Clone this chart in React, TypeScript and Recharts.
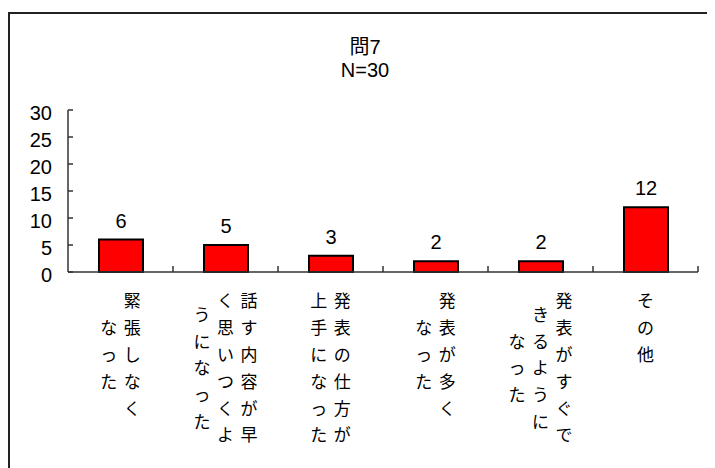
import { BarChart, Bar, XAxis, YAxis, LabelList } from "recharts";

// 問7 の回答（N=30）
const labelColumns: string[][] = [
  ["緊張しなく", "なった"],
  ["話す内容が早", "く思いつくよ", "うになった"],
  ["発表の仕方が", "上手になった"],
  ["発表が多く", "なった"],
  ["発表がすぐで", "きるように", "なった"],
  ["その他"],
];
const counts = [6, 5, 3, 2, 2, 12];
const yTicks = [0, 5, 10, 15, 20, 25, 30];

const data = labelColumns.map((cols, i) => ({ name: cols.join(""), count: counts[i] }));

const W = 697;
const H = 454;
const M = { top: 96, right: 9, left: 0, bottom: 0 };
const Y_W = 58;
const BAND = (W - M.left - M.right - Y_W) / labelColumns.length;

const numFont = "'Liberation Sans', Arial, sans-serif";
const jpFont = "'Noto Sans CJK JP', sans-serif";

function YTick(props: any) {
  const { x, y, payload } = props;
  return (
    <g>
      <line x1={x} x2={x + 5} y1={y} y2={y} stroke="#333" strokeWidth={1.5} />
      <text x={x - 16} y={y + 3} dy="0.36em" textAnchor="end" fontSize={20} fontFamily={numFont} fill="#000">
        {payload.value}
      </text>
    </g>
  );
}

function XTick(props: any) {
  const { x, y, index } = props;
  const cols = labelColumns[index] || [];
  const maxLen = Math.max(...cols.map((c) => c.length));
  const colGap = 23.5;
  const rowGap = 26.8;
  const n = cols.length;
  return (
    <g>
      <line x1={x + BAND / 2} x2={x + BAND / 2} y1={y} y2={y - 6} stroke="#333" strokeWidth={1.5} />
      {cols.map((col, ci) => {
        // 縦書き：右の列から左へ
        const cx = x + ((n - 1) / 2 - ci) * colGap;
        const off = ((maxLen - col.length) / 2) * rowGap;
        return Array.from(col).map((ch, ri) => (
          <text
            key={ci + "-" + ri}
            x={cx}
            y={y + 29.5 + off + ri * rowGap}
            dy="0.35em"
            textAnchor="middle"
            fontSize={17}
            fontFamily={jpFont}
            fill="#000"
          >
            {ch}
          </text>
        ));
      })}
    </g>
  );
}

export default function App() {
  return (
    <div
      style={{
        position: "relative",
        marginTop: 4,
        width: 720,
        height: H,
        borderTop: "2px solid #222",
        borderLeft: "2px solid #222",
        background: "#fff",
      }}
    >
      <style>{`html,body{overflow:hidden}`}</style>
      <div
        style={{
          position: "absolute",
          left: 255,
          top: 21,
          width: 200,
          textAlign: "center",
          fontFamily: `${numFont}, ${jpFont}`,
          fontSize: 20,
          lineHeight: "24px",
          color: "#000",
        }}
      >
        <div>問7</div>
        <div style={{ marginTop: -1 }}>N=30</div>
      </div>
      <BarChart width={W} height={H} data={data} margin={M} barSize={44}>
        <XAxis
          dataKey="name"
          interval={0}
          height={H - M.top - M.bottom - 162}
          tickLine={false}
          tickSize={0}
          tickMargin={0}
          axisLine={{ stroke: "#333", strokeWidth: 1.5 }}
          tick={<XTick />}
        />
        <YAxis
          width={Y_W}
          domain={[0, 30]}
          ticks={yTicks}
          interval={0}
          tickLine={false}
          tickSize={0}
          tickMargin={0}
          axisLine={{ stroke: "#333", strokeWidth: 1.5 }}
          tick={<YTick />}
        />
        <Bar dataKey="count" fill="#ff0000" stroke="#000" strokeWidth={2} isAnimationActive={false}>
          <LabelList dataKey="count" position="top" offset={12} fontSize={20} fontFamily={numFont} fill="#000" />
        </Bar>
      </BarChart>
    </div>
  );
}
